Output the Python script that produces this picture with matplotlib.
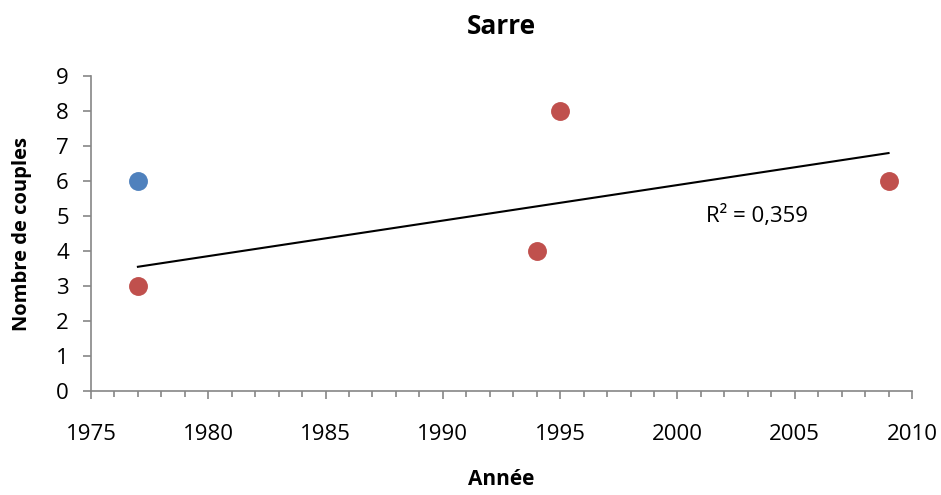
import matplotlib
matplotlib.use("Agg")
import matplotlib.pyplot as plt
import numpy as np
from matplotlib.ticker import MultipleLocator

plt.rcParams['font.family'] = ['Open Sans', 'DejaVu Sans']

blue_years = [1977]
blue_counts = [6]
red_years = [1977, 1994, 1995, 2009]
red_counts = [3, 4, 8, 6]
r2_label = "R² = 0,359"

fig = plt.figure(figsize=(9.41, 4.95), dpi=100)
ax = fig.add_axes([0.0967, 0.210, 0.8725, 0.6365])

ax.scatter(blue_years, blue_counts, s=185, color='#4F81BD', zorder=3, linewidths=0)
ax.scatter(red_years, red_counts, s=185, color='#C0504D', zorder=3, linewidths=0)

coef = np.polyfit(red_years, red_counts, 1)
xs = np.array([min(red_years), max(red_years)])
ax.plot(xs, np.polyval(coef, xs), color='black', lw=1.5, zorder=2)
ax.text(2003.4, 5.0, r2_label, fontsize=16, ha='center', va='center')

ax.set_xlim(1975, 2010)
ax.set_ylim(0, 9)
ax.xaxis.set_major_locator(MultipleLocator(5))
ax.xaxis.set_minor_locator(MultipleLocator(1))
ax.yaxis.set_major_locator(MultipleLocator(1))

for s in ['top', 'right']:
    ax.spines[s].set_visible(False)
for s in ['left', 'bottom']:
    ax.spines[s].set_color('#868686')
    ax.spines[s].set_linewidth(1.2)
ax.tick_params(axis='both', which='major', length=6, width=1.2, color='#868686', labelsize=16)
ax.tick_params(axis='x', which='minor', length=4, width=1.2, color='#868686')
ax.tick_params(axis='x', pad=18)
ax.tick_params(axis='y', pad=10)

ax.set_title("Sarre", fontsize=19, fontweight='bold', pad=30)
ax.set_xlabel("Année", fontsize=15, fontweight='bold', labelpad=17)
ax.set_ylabel("Nombre de couples", fontsize=14.5, fontweight='bold', labelpad=17)

fig.savefig("out.png", dpi=100)
